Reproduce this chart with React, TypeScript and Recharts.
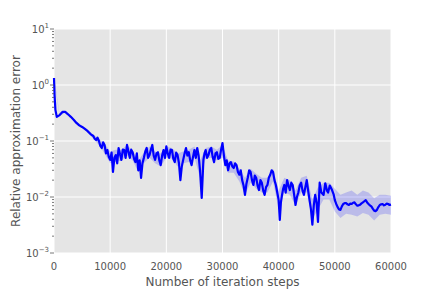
import React from 'react';
import { ComposedChart, Line, Area, XAxis, YAxis, CartesianGrid } from 'recharts';

// iteration step / relative error
const iterSteps = [
  0, 100, 250, 500, 1000, 1500, 2000, 2500, 3000, 3500, 4000, 4500, 5000, 5500, 6000, 6500, 7000, 7250, 7500, 7750,
  8000, 8250, 8500, 8750, 9000, 9250, 9500, 9750, 10000, 10250, 10500, 10750, 11000, 11250, 11500, 11750,
  12000, 12250, 12500, 12750, 13000, 13250, 13500, 13750, 14000, 14250, 14500, 14750, 15000, 15250, 15500, 15750,
  16000, 16250, 16500, 16750, 17000, 17250, 17500, 17750, 18000, 18250, 18500, 18750, 19000, 19250, 19500, 19750,
  20000, 20250, 20500, 20750, 21000, 21250, 21500, 21750, 22000, 22250, 22500, 22750, 23000, 23250, 23500, 23750,
  24000, 24250, 24500, 24750, 25000, 25250, 25500, 25750, 26000, 26300, 26600, 26800, 27000, 27250, 27500, 27750,
  28000, 28250, 28500, 28750, 29000, 29250, 29500, 29750, 30000, 30250, 30500, 30750, 31000, 31250, 31500, 31750,
  32000, 32250, 32500, 32750, 33000, 33250, 33500, 33750, 34000, 34250, 34500, 34750, 35000, 35250, 35500, 35750,
  36000, 36250, 36500, 36750, 37000, 37250, 37500, 37750, 38000, 38250, 38500, 38750, 39000, 39250, 39500, 39750,
  40000, 40200, 40400, 40600, 40800, 41000, 41250, 41500, 41750, 42000, 42250, 42500, 42750, 43000, 43250, 43500,
  43750, 44000, 44250, 44500, 44750, 45000, 45250, 45500, 45750, 46000, 46250, 46500, 46750, 47000, 47300, 47600,
  48000, 48300, 48600, 48800, 49100, 49500, 49800, 50000, 50250, 50500, 50750, 51000, 51250, 51500, 51750, 52000,
  52250, 52500, 52750, 53000, 53250, 53500, 53750, 54000, 54250, 54500, 54750, 55000, 55250, 55500, 55750, 56000,
  56250, 56500, 56750, 57000, 57250, 57500, 57750, 58000, 58250, 58500, 58750, 59000, 59250, 59500, 59750, 60000,
];
const relError = [
  1.33, 0.66, 0.36, 0.27, 0.29, 0.33, 0.33, 0.3, 0.27, 0.24, 0.21, 0.19, 0.178, 0.164, 0.15, 0.133, 0.123, 0.11, 0.104, 0.115,
  0.1, 0.082, 0.075, 0.095, 0.085, 0.06, 0.069, 0.052, 0.046, 0.062, 0.028, 0.05, 0.056, 0.04, 0.075, 0.058,
  0.046, 0.07, 0.069, 0.05, 0.085, 0.065, 0.05, 0.07, 0.063, 0.048, 0.042, 0.06, 0.03, 0.045, 0.022, 0.04,
  0.05, 0.065, 0.075, 0.05, 0.056, 0.07, 0.085, 0.055, 0.046, 0.06, 0.063, 0.045, 0.037, 0.055, 0.069, 0.05,
  0.08, 0.06, 0.05, 0.07, 0.069, 0.048, 0.042, 0.062, 0.056, 0.04, 0.02, 0.035, 0.046, 0.06, 0.075, 0.055,
  0.063, 0.045, 0.037, 0.052, 0.069, 0.05, 0.075, 0.055, 0.03, 0.0096, 0.046, 0.06, 0.069, 0.05, 0.056, 0.07,
  0.075, 0.052, 0.042, 0.06, 0.063, 0.048, 0.05, 0.07, 0.092, 0.055, 0.037, 0.045, 0.03, 0.04, 0.042, 0.035,
  0.033, 0.04, 0.037, 0.028, 0.025, 0.03, 0.02, 0.016, 0.0109, 0.017, 0.022, 0.03, 0.028, 0.02, 0.0164, 0.024,
  0.022, 0.016, 0.0133, 0.02, 0.018, 0.013, 0.0109, 0.015, 0.0164, 0.022, 0.025, 0.03, 0.028, 0.02, 0.0164, 0.012,
  0.0088, 0.0039, 0.008, 0.0109, 0.014, 0.0164, 0.012, 0.02, 0.016, 0.0133, 0.018, 0.0164, 0.011, 0.0072, 0.01, 0.012,
  0.016, 0.018, 0.013, 0.0109, 0.015, 0.02, 0.013, 0.0088, 0.006, 0.0032, 0.007, 0.0109, 0.008, 0.0036, 0.018, 0.012,
  0.0109, 0.0176, 0.013, 0.012, 0.016, 0.0133, 0.011, 0.0088, 0.0075, 0.0066, 0.006, 0.0059, 0.0068, 0.0075, 0.0078, 0.0078,
  0.0074, 0.0072, 0.0076, 0.0075, 0.0079, 0.008, 0.0074, 0.007, 0.0071, 0.0073, 0.0077, 0.008, 0.0084, 0.0088, 0.008, 0.0075,
  0.0071, 0.0068, 0.0062, 0.0057, 0.0056, 0.0059, 0.0066, 0.0072, 0.0074, 0.0075, 0.0071, 0.0073, 0.0076, 0.0075, 0.0072, 0.0073,
];

// spread band (lower / upper) every 1000 steps
const bandSteps = [
  0, 1000, 2000, 3000, 4000, 5000, 6000, 7000, 8000, 9000, 10000, 11000, 12000, 13000, 14000, 15000, 16000, 17000, 18000, 19000,
  20000, 21000, 22000, 23000, 24000, 25000, 26000, 27000, 28000, 29000, 30000, 31000, 32000, 33000, 34000, 35000, 36000, 37000, 38000, 39000,
  40000, 41000, 42000, 43000, 44000, 45000, 46000, 47000, 48000, 49000, 50000, 51000, 52000, 53000, 54000, 55000, 56000, 57000, 58000, 59000, 60000,
];
const bandLow = [
  1.25, 0.28, 0.32, 0.26, 0.2, 0.17, 0.14, 0.11, 0.085, 0.06, 0.04, 0.042, 0.045, 0.055, 0.045, 0.028, 0.04, 0.05, 0.04, 0.035,
  0.05, 0.048, 0.035, 0.04, 0.042, 0.05, 0.022, 0.048, 0.05, 0.045, 0.05, 0.027, 0.027, 0.019, 0.011, 0.018, 0.014, 0.012, 0.012, 0.019,
  0.006, 0.012, 0.011, 0.007, 0.012, 0.012, 0.004, 0.006, 0.009, 0.009, 0.0055, 0.0042, 0.005, 0.0048, 0.0045, 0.0052, 0.0048, 0.0038, 0.0048, 0.005, 0.0048,
];
const bandHigh = [
  1.4, 0.3, 0.34, 0.28, 0.22, 0.19, 0.16, 0.13, 0.11, 0.09, 0.065, 0.07, 0.07, 0.085, 0.068, 0.045, 0.062, 0.08, 0.065, 0.06,
  0.08, 0.075, 0.06, 0.065, 0.07, 0.08, 0.045, 0.075, 0.08, 0.07, 0.085, 0.045, 0.043, 0.032, 0.022, 0.032, 0.026, 0.022, 0.022, 0.032,
  0.013, 0.022, 0.02, 0.013, 0.022, 0.024, 0.009, 0.015, 0.018, 0.018, 0.014, 0.011, 0.012, 0.013, 0.011, 0.013, 0.012, 0.0095, 0.011, 0.011, 0.0105,
];

const xTicks = [0, 10000, 20000, 30000, 40000, 50000, 60000];
const yMajorTicks = [0.001, 0.01, 0.1, 1, 10];
const yMinorTicks = [
  0.002, 0.003, 0.004, 0.005, 0.006, 0.007, 0.008, 0.009,
  0.02, 0.03, 0.04, 0.05, 0.06, 0.07, 0.08, 0.09,
  0.2, 0.3, 0.4, 0.5, 0.6, 0.7, 0.8, 0.9,
  2, 3, 4, 5, 6, 7, 8, 9,
];

const lineData = iterSteps.map((step, i) => ({ step, err: relError[i] }));
const bandData = bandSteps.map((step, i) => ({ step, range: [bandLow[i], bandHigh[i]] }));
const yAllTicks = [...yMajorTicks, ...yMinorTicks];

const FONT = '"DejaVu Sans", sans-serif';
const TEXT = '#555555';
const TICK = '#555555';

const isMajor = (v: number) => yMajorTicks.includes(v);

function LeftTick({ x, y, payload }: any) {
  const v = payload.value;
  const major = isMajor(v);
  const exp = Math.round(Math.log10(v));
  return (
    <g>
      <line x1={x - (major ? 4 : 2)} x2={x} y1={y} y2={y} stroke={TICK} strokeWidth={0.8} />
      {major && (
        <text x={x - 5} y={y + 4} textAnchor="end" fontFamily={FONT} fontSize={10} fill={TEXT}>
          10
          <tspan dy={-5} fontSize={7}>
            {exp < 0 ? '\u2212' + -exp : String(exp)}
          </tspan>
        </text>
      )}
    </g>
  );
}

function RightTick({ x, y, payload }: any) {
  const major = isMajor(payload.value);
  return <line x1={x} x2={x + (major ? 4 : 2)} y1={y} y2={y} stroke={TICK} strokeWidth={0.8} />;
}

function TopTick({ x, y }: any) {
  return <line x1={x} x2={x} y1={y - 4} y2={y} stroke={TICK} strokeWidth={0.8} />;
}

function BottomTick({ x, y, payload }: any) {
  return (
    <text x={x} y={y + 17} textAnchor="middle" fontFamily={FONT} fontSize={10} fill={TEXT}>
      {payload.value}
    </text>
  );
}

export default function App() {
  return (
    <div style={{ position: 'absolute', left: 0, top: 0, width: 436, height: 291, background: '#fff' }}>
      <ComposedChart width={436} height={291} margin={{ top: 29, right: 45, bottom: 0, left: 0 }}>
        <CartesianGrid
          fill="#e5e5e5"
          fillOpacity={1}
          stroke="#ffffff"
          strokeWidth={1}
          horizontalValues={yMajorTicks}
          verticalValues={xTicks}
        />
        <XAxis
          dataKey="step"
          type="number"
          domain={[0, 60000]}
          ticks={xTicks}
          interval={0}
          height={38}
          axisLine={false}
          tickLine={false}
          tickSize={0}
          tickMargin={0}
          tick={<BottomTick />}
        />
        <XAxis
          xAxisId="top"
          orientation="top"
          dataKey="step"
          type="number"
          domain={[0, 60000]}
          ticks={xTicks}
          interval={0}
          height={0}
          axisLine={false}
          tickLine={false}
          tickSize={0}
          tickMargin={0}
          tick={<TopTick />}
        />
        <YAxis
          scale="log"
          type="number"
          domain={[0.001, 10]}
          allowDataOverflow
          ticks={yAllTicks}
          interval={0}
          width={54}
          axisLine={false}
          tickLine={false}
          tickSize={0}
          tickMargin={0}
          tick={<LeftTick />}
        />
        <YAxis
          yAxisId="right"
          orientation="right"
          scale="log"
          type="number"
          domain={[0.001, 10]}
          allowDataOverflow
          ticks={yAllTicks}
          interval={0}
          width={0}
          axisLine={false}
          tickLine={false}
          tickSize={0}
          tickMargin={0}
          tick={<RightTick />}
        />
        <Area
          data={bandData}
          dataKey="range"
          type="linear"
          stroke="none"
          fill="#0000ff"
          fillOpacity={0.18}
          isAnimationActive={false}
        />
        <Line
          data={lineData}
          dataKey="err"
          type="linear"
          stroke="#0000ff"
          strokeWidth={2.2}
          strokeLinejoin="round"
          dot={false}
          isAnimationActive={false}
        />
      </ComposedChart>
      <div
        style={{
          position: 'absolute',
          left: 54,
          width: 337,
          top: 275,
          textAlign: 'center',
          fontFamily: FONT,
          fontSize: 12,
          color: TEXT,
          lineHeight: '14px',
        }}
      >
        Number of iteration steps
      </div>
      <div
        style={{
          position: 'absolute',
          left: 16 - 100,
          top: 141 - 7,
          width: 200,
          textAlign: 'center',
          fontFamily: FONT,
          fontSize: 12,
          color: TEXT,
          lineHeight: '14px',
          transform: 'rotate(-90deg)',
        }}
      >
        Relative approximation error
      </div>
    </div>
  );
}
